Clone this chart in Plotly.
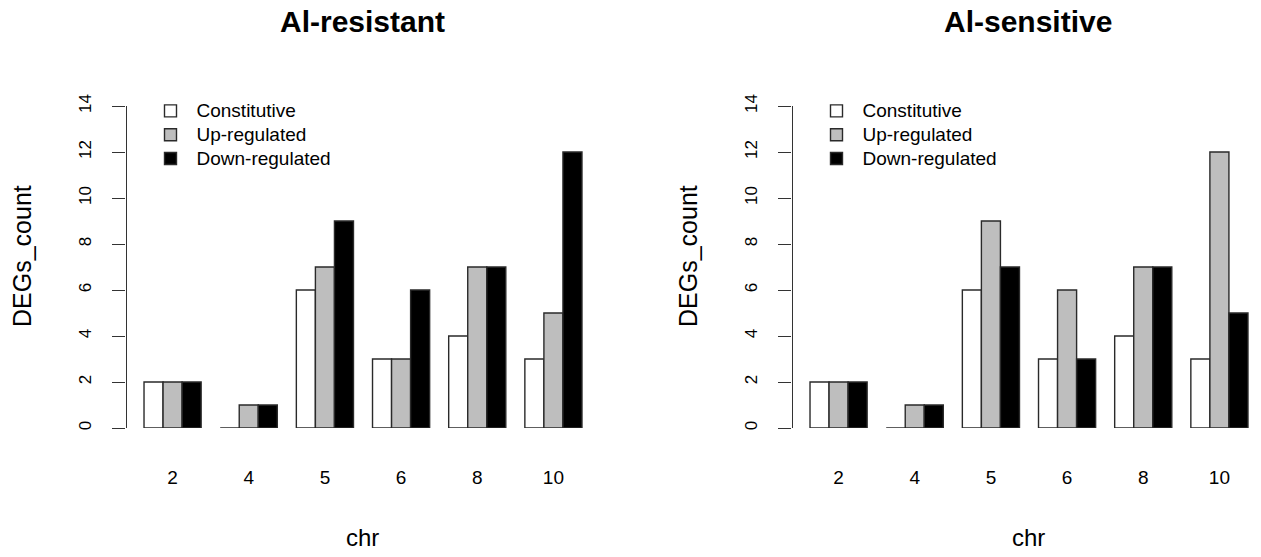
import plotly.graph_objects as go

# Differentially expressed gene counts per chromosome
chromosomes = ["2", "4", "5", "6", "8", "10"]
series_names = ["Constitutive", "Up-regulated", "Down-regulated"]

resistant_constitutive = [2, 0, 6, 3, 4, 3]
resistant_up = [2, 1, 7, 3, 7, 5]
resistant_down = [2, 1, 9, 6, 7, 12]

sensitive_constitutive = [2, 0, 6, 3, 4, 3]
sensitive_up = [2, 1, 9, 6, 7, 12]
sensitive_down = [2, 1, 7, 3, 7, 5]

panel_titles = ["Al-resistant", "Al-sensitive"]
y_ticks = [0, 2, 4, 6, 8, 10, 12, 14]

W, H = 1261, 557
FONT = "Liberation Sans, Arial, sans-serif"
fills = ["white", "#bebebe", "black"]


def px_x(p):
    return p / W


def px_y(p):
    return 1 - p / H


y_dom = [px_y(428), px_y(106)]
x_dom_left = [px_x(126.5), px_x(599.5)]
x_dom_right = [px_x(792.5), 1.0]

fig = go.Figure()

panels = [
    ("x", "y", "legend", [resistant_constitutive, resistant_up, resistant_down]),
    ("x2", "y2", "legend2", [sensitive_constitutive, sensitive_up, sensitive_down]),
]
for xa, ya, lg, values in panels:
    for name, vals, fill in zip(series_names, values, fills):
        fig.add_trace(go.Bar(
            x=chromosomes, y=vals,
            name='<span style="font-size:19px">%s</span>' % name,
            hovertemplate="chr %{x}<br>" + name + ": %{y}<extra></extra>",
            xaxis=xa, yaxis=ya, legend=lg,
            marker=dict(color=fill, line=dict(color="#2a2a2a", width=1.4)),
        ))

axis_common_x = dict(
    type="category", showgrid=False, zeroline=False, showline=False,
    ticks="", tickfont=dict(family=FONT, size=19, color="black"),
    ticklabelstandoff=36, automargin=False,
)
axis_common_y = dict(
    range=[0, 14], tickvals=y_ticks, showgrid=False, zeroline=False,
    showline=True, linecolor="#333333", linewidth=1.4,
    ticks="outside", ticklen=13, tickwidth=1.4, tickcolor="#333333",
    tickangle=-90, tickfont=dict(family=FONT, size=17, color="black"),
    ticklabelstandoff=15, automargin=False,
)

legend_common = dict(
    xanchor="left", yanchor="top", itemwidth=42,
    font=dict(family=FONT, size=16, color="black"),
    bgcolor="rgba(0,0,0,0)", tracegroupgap=0, itemclick=False,
)

fig.update_layout(
    width=W, height=H,
    margin=dict(l=0, r=0, t=0, b=0),
    paper_bgcolor="white", plot_bgcolor="white",
    barmode="group", bargap=0.25, bargroupgap=0,
    showlegend=True,
    xaxis=dict(domain=x_dom_left, range=[-0.605, 5.605], anchor="y", **axis_common_x),
    yaxis=dict(domain=y_dom, anchor="x", **axis_common_y),
    xaxis2=dict(domain=x_dom_right, range=[-0.605, 5.546], anchor="y2", **axis_common_x),
    yaxis2=dict(domain=y_dom, anchor="x2", **axis_common_y),
    legend=dict(x=px_x(144.5), y=px_y(94), **legend_common),
    legend2=dict(x=px_x(810.5), y=px_y(94), **legend_common),
)

# Panel titles and axis titles
for title, cx, ylab_x in zip(panel_titles, [362, 1028], [22, 688]):
    fig.add_annotation(
        text="<b>%s</b>" % title, x=px_x(cx), y=px_y(21),
        xref="paper", yref="paper", showarrow=False,
        font=dict(family=FONT, size=30, color="black"),
        xanchor="center", yanchor="middle",
    )
    fig.add_annotation(
        text="chr", x=px_x(cx), y=px_y(537),
        xref="paper", yref="paper", showarrow=False,
        font=dict(family=FONT, size=24, color="black"),
        xanchor="center", yanchor="middle",
    )
    fig.add_annotation(
        text="DEGs_count", x=px_x(ylab_x), y=px_y(256), textangle=-90,
        xref="paper", yref="paper", showarrow=False,
        font=dict(family=FONT, size=25, color="black"),
        xanchor="center", yanchor="middle",
    )

fig.write_html("out.html")
